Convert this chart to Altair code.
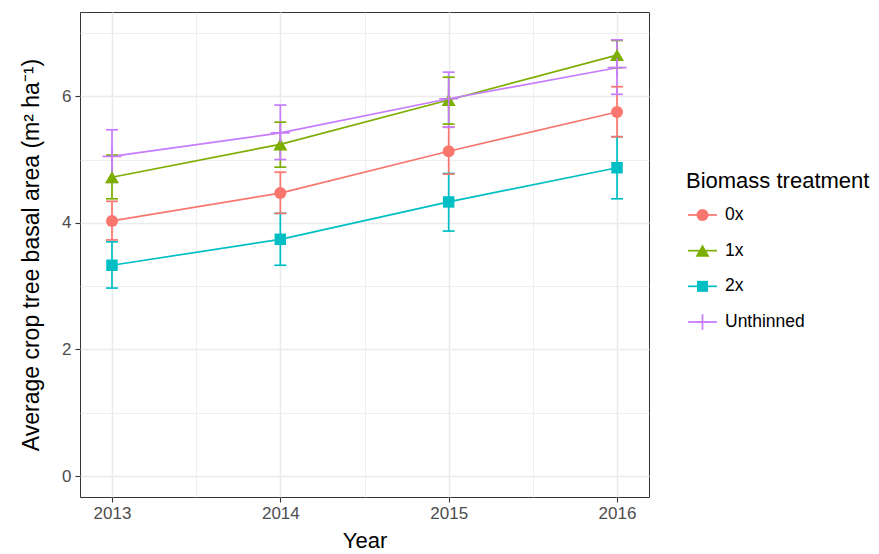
import altair as alt
import pandas as pd

# ---------------- data ----------------
years = [2013, 2014, 2015, 2016]
treatments = ["0x", "1x", "2x", "Unthinned"]
colors = ["#F8766D", "#7CAE00", "#00BFC4", "#C77CFF"]

mean_0x = [4.03, 4.47, 5.13, 5.75]
low_0x = [3.73, 4.15, 4.77, 5.36]
high_0x = [4.34, 4.80, 5.51, 6.15]

mean_1x = [4.72, 5.24, 5.94, 6.65]
low_1x = [4.38, 4.88, 5.56, 6.45]
high_1x = [5.07, 5.59, 6.30, 6.88]

mean_2x = [3.33, 3.74, 4.33, 4.87]
low_2x = [2.97, 3.33, 3.87, 4.38]
high_2x = [3.70, 4.15, 4.78, 5.36]

mean_un = [5.05, 5.42, 5.96, 6.45]
low_un = [4.64, 5.00, 5.51, 6.03]
high_un = [5.47, 5.86, 6.38, 6.89]

y_major_ticks = [0, 2, 4, 6]
y_minor_ticks = [1, 3, 5, 7]
x_minor_ticks = [2013.5, 2014.5, 2015.5]

legend_title = "Biomass treatment"

means = [mean_0x, mean_1x, mean_2x, mean_un]
lows = [low_0x, low_1x, low_2x, low_un]
highs = [high_0x, high_1x, high_2x, high_un]

rows = []
for t, ms, ls, hs in zip(treatments, means, lows, highs):
    for yr, m, lo, hi in zip(years, ms, ls, hs):
        rows.append({"treatment": t, "year": yr, "mean": m, "low": lo, "high": hi})
df = pd.DataFrame(rows)
legend_df = pd.DataFrame({"treatment": treatments})

# ---------------- style ----------------
FONT = "Liberation Sans"
GRID = "#EBEBEB"
LW = 1.7

plot_shapes = ["circle", "triangle-up", "square", "M-1,0L1,0M0,-1L0,1"]
plot_sizes = [144, 196, 132, 361]
legend_sizes = [144, 196, 121, 243]
plot_filled = [True, True, True, False]

x_scale = alt.Scale(domain=[2012.81, 2016.19], nice=False, zero=False)
y_scale = alt.Scale(domain=[-0.33, 7.33], nice=False, zero=False)
color_scale = alt.Scale(domain=treatments, range=colors)

x_main = alt.Axis(
    orient="bottom", values=years, format="d", title="Year",
    grid=True, gridColor=GRID, gridWidth=1.6, domain=False,
    ticks=True, tickColor="#333333", tickSize=5, tickWidth=1.1,
    labelColor="#4D4D4D", labelFontSize=17, labelFont=FONT, labelPadding=3,
    titleFont=FONT, titleFontSize=22, titleFontWeight="normal",
    titleColor="black", titlePadding=9,
)
y_main = alt.Axis(
    orient="left", values=y_major_ticks, format="d",
    title="Average crop tree basal area (m\u00b2 ha\u207b\u00b9)",
    grid=True, gridColor=GRID, gridWidth=1.6, domain=False,
    ticks=True, tickColor="#333333", tickSize=5, tickWidth=1.1,
    labelColor="#4D4D4D", labelFontSize=17, labelFont=FONT, labelPadding=4,
    titleFont=FONT, titleFontSize=23, titleFontWeight="normal",
    titleColor="black", titlePadding=18,
)
x_minor = alt.Axis(orient="top", values=x_minor_ticks, grid=True, gridColor=GRID,
                   gridWidth=0.8, labels=False, ticks=False, domain=False, title="")
y_minor = alt.Axis(orient="right", values=y_minor_ticks, grid=True, gridColor=GRID,
                   gridWidth=0.8, labels=False, ticks=False, domain=False, title="")

base = alt.Chart(df)
col = alt.Color("treatment:N", scale=color_scale, legend=None)
xq = alt.X("year:Q", scale=x_scale, axis=None)

lines = base.mark_line(strokeWidth=LW).encode(
    x=alt.X("year:Q", scale=x_scale, axis=x_main),
    y=alt.Y("mean:Q", scale=y_scale, axis=y_main),
    color=col,
)

minor_grid = base.mark_point(opacity=0).encode(
    x=alt.X("year:Q", scale=x_scale, axis=x_minor),
    y=alt.Y("mean:Q", scale=y_scale, axis=y_minor),
)

err = base.mark_rule(strokeWidth=LW).encode(
    x=xq, y=alt.Y("low:Q", scale=y_scale, axis=None), y2="high:Q", color=col
)
cap_hi = base.mark_tick(orient="horizontal", size=12, thickness=LW, opacity=1).encode(
    x=xq, y=alt.Y("high:Q", scale=y_scale, axis=None), color=col
)
cap_lo = base.mark_tick(orient="horizontal", size=12, thickness=LW, opacity=1).encode(
    x=xq, y=alt.Y("low:Q", scale=y_scale, axis=None), color=col
)

point_layers = []
for t, shp, sz, fl in zip(treatments, plot_shapes, plot_sizes, plot_filled):
    point_layers.append(
        base.transform_filter(alt.datum.treatment == t)
        .mark_point(shape=shp, size=sz, filled=fl, opacity=1, strokeWidth=LW)
        .encode(x=xq, y=alt.Y("mean:Q", scale=y_scale, axis=None), color=col)
    )

main = alt.layer(lines, minor_grid, err, cap_hi, cap_lo, *point_layers).resolve_axis(
    x="independent", y="independent"
)

# ---------------- legend (drawn with the library from the category list) ----------------
lbase = alt.Chart(legend_df)
ly = alt.Y(
    "treatment:N",
    scale=alt.Scale(type="point", domain=treatments, range=[203, 310], padding=0),
    axis=None,
)

leg_lines = lbase.mark_rule(strokeWidth=LW).encode(
    x=alt.value(608), x2=alt.value(637), y=ly, color=col
)
leg_points = []
for t, shp, sz, fl in zip(treatments, plot_shapes, legend_sizes, plot_filled):
    leg_points.append(
        lbase.transform_filter(alt.datum.treatment == t)
        .mark_point(shape=shp, size=sz, filled=fl, opacity=1, strokeWidth=LW)
        .encode(x=alt.value(622.5), y=ly, color=col)
    )
leg_labels = lbase.mark_text(
    align="left", baseline="middle", font=FONT, fontSize=17.5,
    fontWeight="normal", color="black"
).encode(x=alt.value(645), y=ly, text="treatment:N")
leg_title = lbase.transform_filter(alt.datum.treatment == treatments[0]).mark_text(
    text=legend_title, align="left", baseline="alphabetic", font=FONT,
    fontSize=22, fontWeight="normal", color="black"
).encode(x=alt.value(606), y=alt.value(176))

legend = alt.layer(leg_lines, *leg_points, leg_labels, leg_title)

chart = (
    alt.layer(main, legend)
    .resolve_scale(y="independent")
    .properties(width=569, height=485, padding={"left": 12, "top": 4, "right": 0, "bottom": 0})
    .configure_view(stroke="#333333", strokeWidth=1)
)

chart.save("out.html", embed_options={"renderer": "svg", "actions": False})
